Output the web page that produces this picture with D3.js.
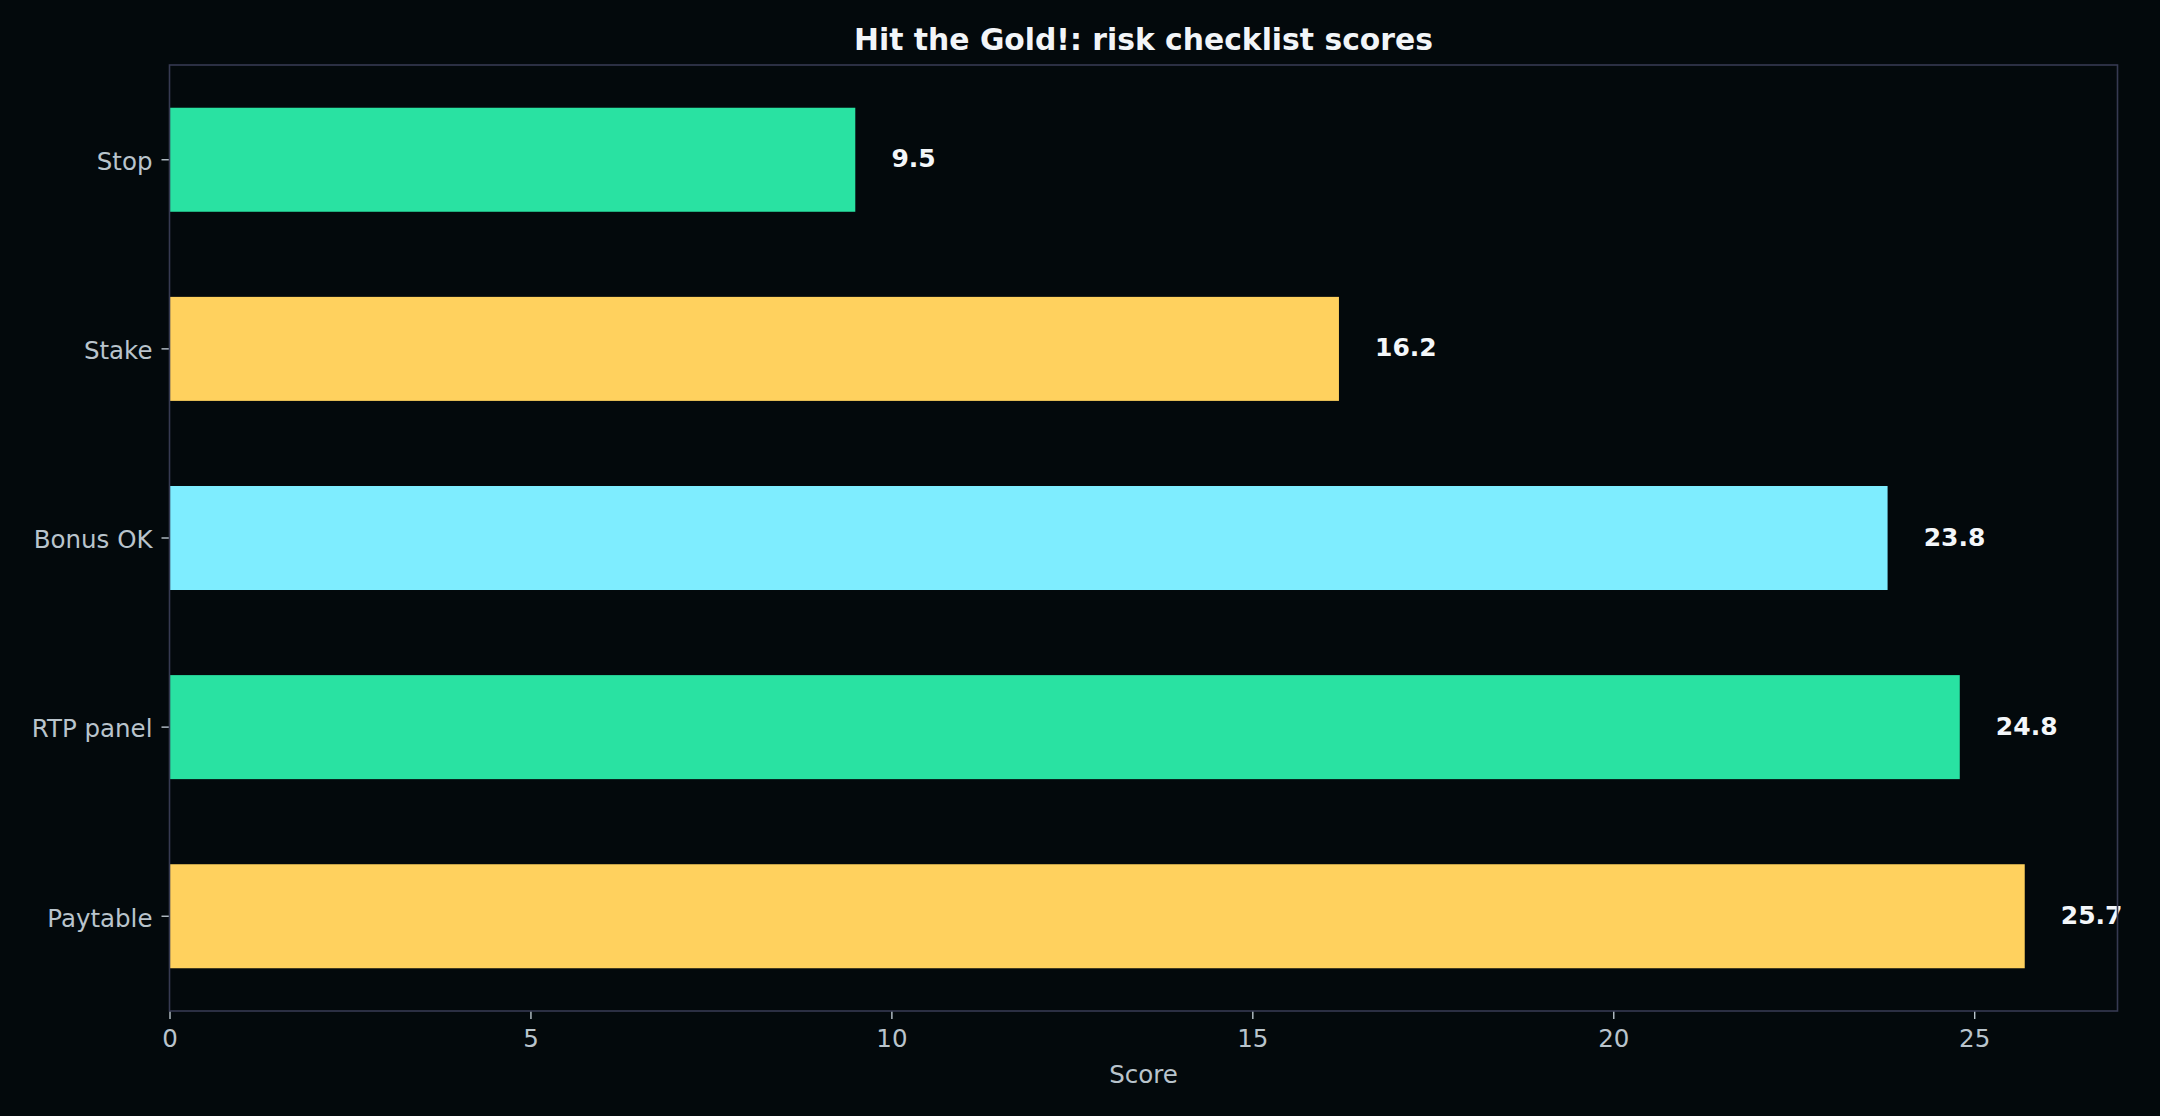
<!DOCTYPE html>
<html>
<head>
<meta charset="utf-8">
<script src="https://cdn.jsdelivr.net/npm/d3@7"></script>
<style>
    html, body { margin: 0; padding: 0; background: #03090c; }
    svg { display: block; font-family: "DejaVu Sans", sans-serif; }
</style>
</head>
<body>
<svg id="chart"></svg>
<script>
// checklist items, bottom of chart first
const items = ['Paytable', 'RTP panel', 'Bonus OK', 'Stake', 'Stop']
const scores = [25.7, 24.8, 23.8, 16.2, 9.5]
const barColors = ['#ffd15e', '#29e2a2', '#7eedff', '#ffd15e', '#29e2a2']
const xTicks = [0, 5, 10, 15, 20, 25]

const width = 2160
const height = 1116
const plot = { left: 169.5, right: 2117.5, top: 65, bottom: 1011 }

const data = items.map((name, i) => ({ name, score: scores[i], color: barColors[i] }))

const svg = d3.select('#chart')
    .attr('width', width)
    .attr('height', height)

svg.append('rect')
    .attr('width', width)
    .attr('height', height)
    .attr('fill', '#03090c')

const x = d3.scaleLinear()
    .domain([0, d3.max(scores) * 1.05])
    .range([plot.left, plot.right])

// top of the chart is the last item
const y = d3.scaleBand()
    .domain(items.slice().reverse())
    .range([plot.top, plot.bottom])
    .paddingInner(0.45)
    .paddingOuter(0.226)

svg.append('g')
    .selectAll('rect.bar')
    .data(data)
    .join('rect')
    .classed('bar', true)
    .attr('x', x(0))
    .attr('y', d => y(d.name))
    .attr('width', d => x(d.score) - x(0))
    .attr('height', y.bandwidth())
    .attr('fill', d => d.color)

svg.append('g')
    .selectAll('text.value')
    .data(data)
    .join('text')
    .classed('value', true)
    .attr('x', d => x(d.score + 0.5))
    .attr('y', d => y(d.name) + y.bandwidth() / 2)
    .attr('dy', '0.3em')
    .attr('fill', '#f4f7fa')
    .style('font-size', '25px')
    .style('font-weight', 'bold')
    .text(d => d.score.toFixed(1))

const tickColor = '#b9c4cc'
const spineColor = '#363a52'

const xAxis = svg.append('g')
    .attr('transform', `translate(0, ${plot.bottom})`)
    .call(d3.axisBottom(x).tickValues(xTicks).tickSize(8).tickPadding(11).tickFormat(d3.format('d')))

const yAxis = svg.append('g')
    .attr('transform', `translate(${plot.left}, 0)`)
    .call(d3.axisLeft(y).tickSize(8).tickPadding(9))

;[xAxis, yAxis].forEach(axis => {
    axis.select('.domain').remove()
    axis.selectAll('.tick line').attr('stroke', tickColor).attr('stroke-width', 1.4)
    axis.selectAll('.tick text')
        .attr('fill', tickColor)
        .style('font-size', '24.5px')
        .style('font-family', '"DejaVu Sans", sans-serif')
})

yAxis.selectAll('.tick text').attr('dy', '0.42em')

// frame around the plot area
svg.append('rect')
    .attr('x', plot.left)
    .attr('y', plot.top)
    .attr('width', plot.right - plot.left)
    .attr('height', plot.bottom - plot.top)
    .attr('fill', 'none')
    .attr('stroke', spineColor)
    .attr('stroke-width', 1.6)

svg.append('text')
    .attr('x', (plot.left + plot.right) / 2)
    .attr('y', 1083)
    .attr('text-anchor', 'middle')
    .attr('fill', tickColor)
    .style('font-size', '24.5px')
    .text('Score')

svg.append('text')
    .attr('x', (plot.left + plot.right) / 2)
    .attr('y', 50)
    .attr('text-anchor', 'middle')
    .attr('fill', '#f2f5f8')
    .style('font-size', '29.8px')
    .style('font-weight', 'bold')
    .text('Hit the Gold!: risk checklist scores')
</script>
</body>
</html>
